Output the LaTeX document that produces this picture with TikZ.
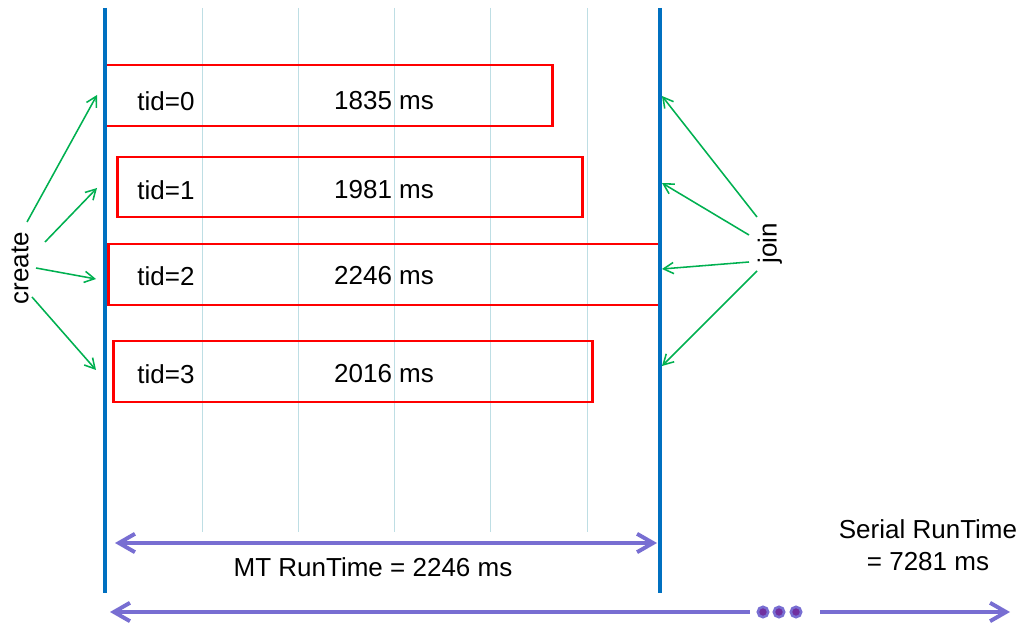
\documentclass[tikz,border=0pt]{standalone}
\usepackage{fontspec}
\setmainfont{Liberation Sans}
\usetikzlibrary{arrows.meta}

\definecolor{threadred}{RGB}{255,0,0}
\definecolor{timeblue}{RGB}{0,112,192}
\definecolor{gridteal}{RGB}{190,222,228}
\definecolor{eventgreen}{RGB}{0,176,80}
\definecolor{spanpurple}{RGB}{120,110,210}
\definecolor{dotpurple}{RGB}{112,48,160}

\begin{document}
\begin{tikzpicture}[
        x=0.025cm, y=-0.025cm,
        every node/.style={font=\fontsize{18.5}{22.8}\selectfont},
        thread/.style={
            rectangle,
            draw=threadred,
            line width=2.1pt,
            inner sep=0pt
        },
        timeline/.style={draw=timeblue, line width=2.5pt},
        gridline/.style={draw=gridteal, line width=0.7pt},
        event/.style={-{Straight Barb[length=2.5mm,width=2.8mm]}, draw=eventgreen, line width=1.1pt},
        span/.style={draw=spanpurple, line width=2.8pt},
        spantip/.tip={Straight Barb[length=4mm,width=4.6mm]},
        dot/.style={circle, fill=dotpurple, draw=spanpurple, line width=1.8pt, minimum size=0.26cm, inner sep=0pt}
    ]
        \useasboundingbox (0,0) rectangle (1022,623);

        % Grid lines
        \draw[gridline] (202,8) -- (202,532);
        \draw[gridline] (298,8) -- (298,532);
        \draw[gridline] (394,8) -- (394,532);
        \draw[gridline] (490,8) -- (490,532);
        \draw[gridline] (587,8) -- (587,532);

        % Thread boxes
        \node[thread, minimum width=11.175cm, minimum height=1.525cm] (thread0) at (328.5,95.5) {};
        \node[thread, minimum width=11.6cm, minimum height=1.5cm] (thread1) at (350,187) {};
        \node[thread, minimum width=13.775cm, minimum height=1.525cm] (thread2) at (384.5,274.5) {};
        \node[thread, minimum width=11.95cm, minimum height=1.525cm] (thread3) at (353,371.5) {};

        \node (tid0) at (166,101) {tid=0};
        \node (time0) at (384,101) {1835 ms};
        \node (tid1) at (166,190) {tid=1};
        \node (time1) at (384,190) {1981 ms};
        \node (tid2) at (166,276) {tid=2};
        \node (time2) at (384,276) {2246 ms};
        \node (tid3) at (166,374) {tid=3};
        \node (time3) at (384,374) {2016 ms};

        % Start and end lines
        \coordinate (starttop) at (105,8);
        \coordinate (startbot) at (105,593);
        \coordinate (endtop) at (660,8);
        \coordinate (endbot) at (660,593);
        \draw[timeline] (starttop) -- (startbot);
        \draw[timeline] (endtop) -- (endbot);

        % Create arrows
        \node[rotate=90] (create) at (20,268) {create};
        \coordinate (cs0) at (27,222);
        \coordinate (cs1) at (45,242);
        \coordinate (cs2) at (36,268);
        \coordinate (cs3) at (32,297);
        \coordinate (ce0) at (97,95);
        \coordinate (ce1) at (97,188);
        \coordinate (ce2) at (96,279);
        \coordinate (ce3) at (96,370);
        \draw[event] (cs0) -- (ce0);
        \draw[event] (cs1) -- (ce1);
        \draw[event] (cs2) -- (ce2);
        \draw[event] (cs3) -- (ce3);

        % Join arrows
        \node[rotate=90] (join) at (770,243) {join};
        \coordinate (js0) at (757,217);
        \coordinate (js1) at (749,235);
        \coordinate (js2) at (749,262);
        \coordinate (js3) at (757,271);
        \coordinate (je0) at (662,96);
        \coordinate (je1) at (662,183);
        \coordinate (je2) at (662,269);
        \coordinate (je3) at (662,366);
        \draw[event] (js0) -- (je0);
        \draw[event] (js1) -- (je1);
        \draw[event] (js2) -- (je2);
        \draw[event] (js3) -- (je3);

        % Run times
        \coordinate (mtleft) at (115,543);
        \coordinate (mtright) at (657,543);
        \draw[span, spantip-spantip] (mtleft) -- (mtright);
        \node (mtlabel) at (373,567) {MT RunTime = 2246 ms};

        \node[dot] (dot1) at (763,612) {};
        \node[dot] (dot2) at (779,612) {};
        \node[dot] (dot3) at (796,612) {};
        \coordinate (serialleft) at (110,612);
        \coordinate (serialmid) at (750,612);
        \coordinate (serialgo) at (820,612);
        \coordinate (serialright) at (1010,612);
        \draw[span, spantip-] (serialleft) -- (serialmid);
        \draw[span, -spantip] (serialgo) -- (serialright);
        \node[align=center] (seriallabel) at (928,545) {Serial RunTime\\= 7281 ms};

    \end{tikzpicture}
\end{document}
